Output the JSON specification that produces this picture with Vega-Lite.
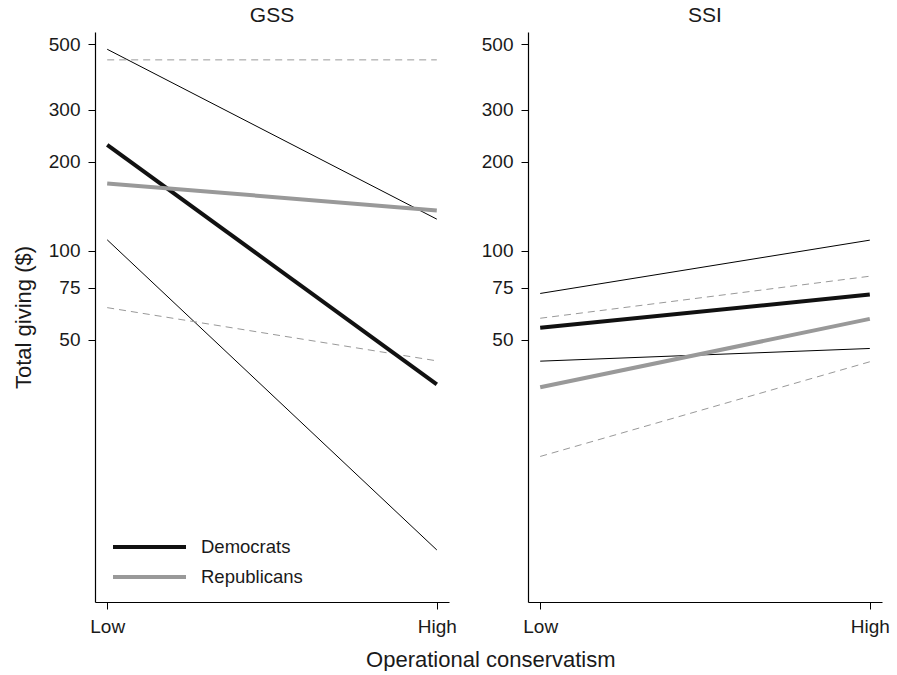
{
  "$schema": "https://vega.github.io/schema/vega-lite/v6.json",
  "padding": {"left": 12, "top": 5, "right": 2, "bottom": 0},
  "datasets": {
    "d": [
      {"survey": "GSS", "party": "Democrats", "line": "est", "level": "Low", "value": 228},
      {"survey": "GSS", "party": "Democrats", "line": "est", "level": "High", "value": 35.4},
      {"survey": "GSS", "party": "Democrats", "line": "lower", "level": "Low", "value": 109},
      {"survey": "GSS", "party": "Democrats", "line": "lower", "level": "High", "value": 9.76},
      {"survey": "GSS", "party": "Democrats", "line": "upper", "level": "Low", "value": 480},
      {"survey": "GSS", "party": "Democrats", "line": "upper", "level": "High", "value": 128},
      {"survey": "GSS", "party": "Republicans", "line": "est", "level": "Low", "value": 169},
      {"survey": "GSS", "party": "Republicans", "line": "est", "level": "High", "value": 137},
      {"survey": "GSS", "party": "Republicans", "line": "lower", "level": "Low", "value": 64.3},
      {"survey": "GSS", "party": "Republicans", "line": "lower", "level": "High", "value": 42.5},
      {"survey": "GSS", "party": "Republicans", "line": "upper", "level": "Low", "value": 442},
      {"survey": "GSS", "party": "Republicans", "line": "upper", "level": "High", "value": 442},
      {"survey": "SSI", "party": "Democrats", "line": "est", "level": "Low", "value": 55.0},
      {"survey": "SSI", "party": "Democrats", "line": "est", "level": "High", "value": 71.2},
      {"survey": "SSI", "party": "Democrats", "line": "lower", "level": "Low", "value": 42.4},
      {"survey": "SSI", "party": "Democrats", "line": "lower", "level": "High", "value": 46.8},
      {"survey": "SSI", "party": "Democrats", "line": "upper", "level": "Low", "value": 71.8},
      {"survey": "SSI", "party": "Democrats", "line": "upper", "level": "High", "value": 108.7},
      {"survey": "SSI", "party": "Republicans", "line": "est", "level": "Low", "value": 34.6},
      {"survey": "SSI", "party": "Republicans", "line": "est", "level": "High", "value": 58.9},
      {"survey": "SSI", "party": "Republicans", "line": "lower", "level": "Low", "value": 20.2},
      {"survey": "SSI", "party": "Republicans", "line": "lower", "level": "High", "value": 42.2},
      {"survey": "SSI", "party": "Republicans", "line": "upper", "level": "Low", "value": 59.2},
      {"survey": "SSI", "party": "Republicans", "line": "upper", "level": "High", "value": 82.1}
    ]
  },
  "spacing": 24,
  "title": {"text": "Operational conservatism", "orient": "bottom", "anchor": "middle", "fontSize": 22, "fontWeight": "normal", "color": "#1a1a1a", "offset": 14, "dx": 40},
  "resolve": {"scale": {"color": "independent"}, "legend": {"color": "independent"}},
  "hconcat": [
    {
      "title": {"text": "GSS"},
      "width": 354,
      "height": 570,
      "data": {"name": "d"},
      "transform": [{"filter": "datum.survey === 'GSS'"}],
      "encoding": {
        "x": {"field": "level", "type": "nominal", "sort": ["Low", "High"], "scale": {"type": "point", "padding": 0.037, "domain": ["Low", "High"]}, "axis": {"title": null, "labelAngle": 0}},
        "y": {"field": "value", "type": "quantitative", "scale": {"type": "log", "domain": [6.51, 549], "nice": false}, "axis": {"values": [50, 75, 100, 200, 300, 500], "format": "d", "title": "Total giving ($)"}}
      },
      "layer": [
        {
          "transform": [{"filter": "datum.line !== 'est' && datum.party === 'Democrats'"}],
          "mark": {"type": "line", "strokeWidth": 1, "color": "#000000"},
          "encoding": {"detail": {"field": "line"}}
        },
        {
          "transform": [{"filter": "datum.line !== 'est' && datum.party === 'Republicans'"}],
          "mark": {"type": "line", "strokeWidth": 1, "color": "#999999", "strokeDash": [7, 5]},
          "encoding": {"detail": {"field": "line"}}
        },
        {
          "transform": [{"filter": "datum.line === 'est'"}],
          "mark": {"type": "line", "strokeWidth": 4},
          "encoding": {
            "color": {"field": "party", "type": "nominal", "scale": {"domain": ["Democrats", "Republicans"], "range": ["#111111", "#999999"]}, "legend": {"orient": "none", "legendX": 16, "legendY": 502, "title": null, "symbolType": "stroke", "symbolSize": 5329, "symbolStrokeWidth": 4, "clipHeight": 26, "rowPadding": 4, "labelFontSize": 18.5, "labelOffset": 13, "padding": 0, "labelColor": "#1a1a1a"}}
          }
        }
      ]
    },
    {
      "title": {"text": "SSI"},
      "width": 354,
      "height": 570,
      "data": {"name": "d"},
      "transform": [{"filter": "datum.survey === 'SSI'"}],
      "encoding": {
        "x": {"field": "level", "type": "nominal", "sort": ["Low", "High"], "scale": {"type": "point", "padding": 0.037, "domain": ["Low", "High"]}, "axis": {"title": null, "labelAngle": 0}},
        "y": {"field": "value", "type": "quantitative", "scale": {"type": "log", "domain": [6.51, 549], "nice": false}, "axis": {"values": [50, 75, 100, 200, 300, 500], "format": "d", "title": null}}
      },
      "layer": [
        {
          "transform": [{"filter": "datum.line !== 'est' && datum.party === 'Democrats'"}],
          "mark": {"type": "line", "strokeWidth": 1, "color": "#000000"},
          "encoding": {"detail": {"field": "line"}}
        },
        {
          "transform": [{"filter": "datum.line !== 'est' && datum.party === 'Republicans'"}],
          "mark": {"type": "line", "strokeWidth": 1, "color": "#999999", "strokeDash": [7, 5]},
          "encoding": {"detail": {"field": "line"}}
        },
        {
          "transform": [{"filter": "datum.line === 'est'"}],
          "mark": {"type": "line", "strokeWidth": 4},
          "encoding": {
            "color": {"field": "party", "type": "nominal", "scale": {"domain": ["Democrats", "Republicans"], "range": ["#111111", "#999999"]}, "legend": null}
          }
        }
      ]
    }
  ],
  "config": {
    "font": "Liberation Sans",
    "view": {"stroke": null},
    "axis": {"domainColor": "#000000", "tickColor": "#000000", "labelColor": "#1a1a1a", "titleColor": "#1a1a1a", "labelFontSize": 19, "titleFontSize": 22, "titleFontWeight": "normal", "titlePadding": 13, "tickSize": 7, "labelPadding": 8, "grid": false, "domainWidth": 1.2, "tickWidth": 1},
    "title": {"fontSize": 21, "fontWeight": "normal", "color": "#1a1a1a", "offset": 6}
  }
}
